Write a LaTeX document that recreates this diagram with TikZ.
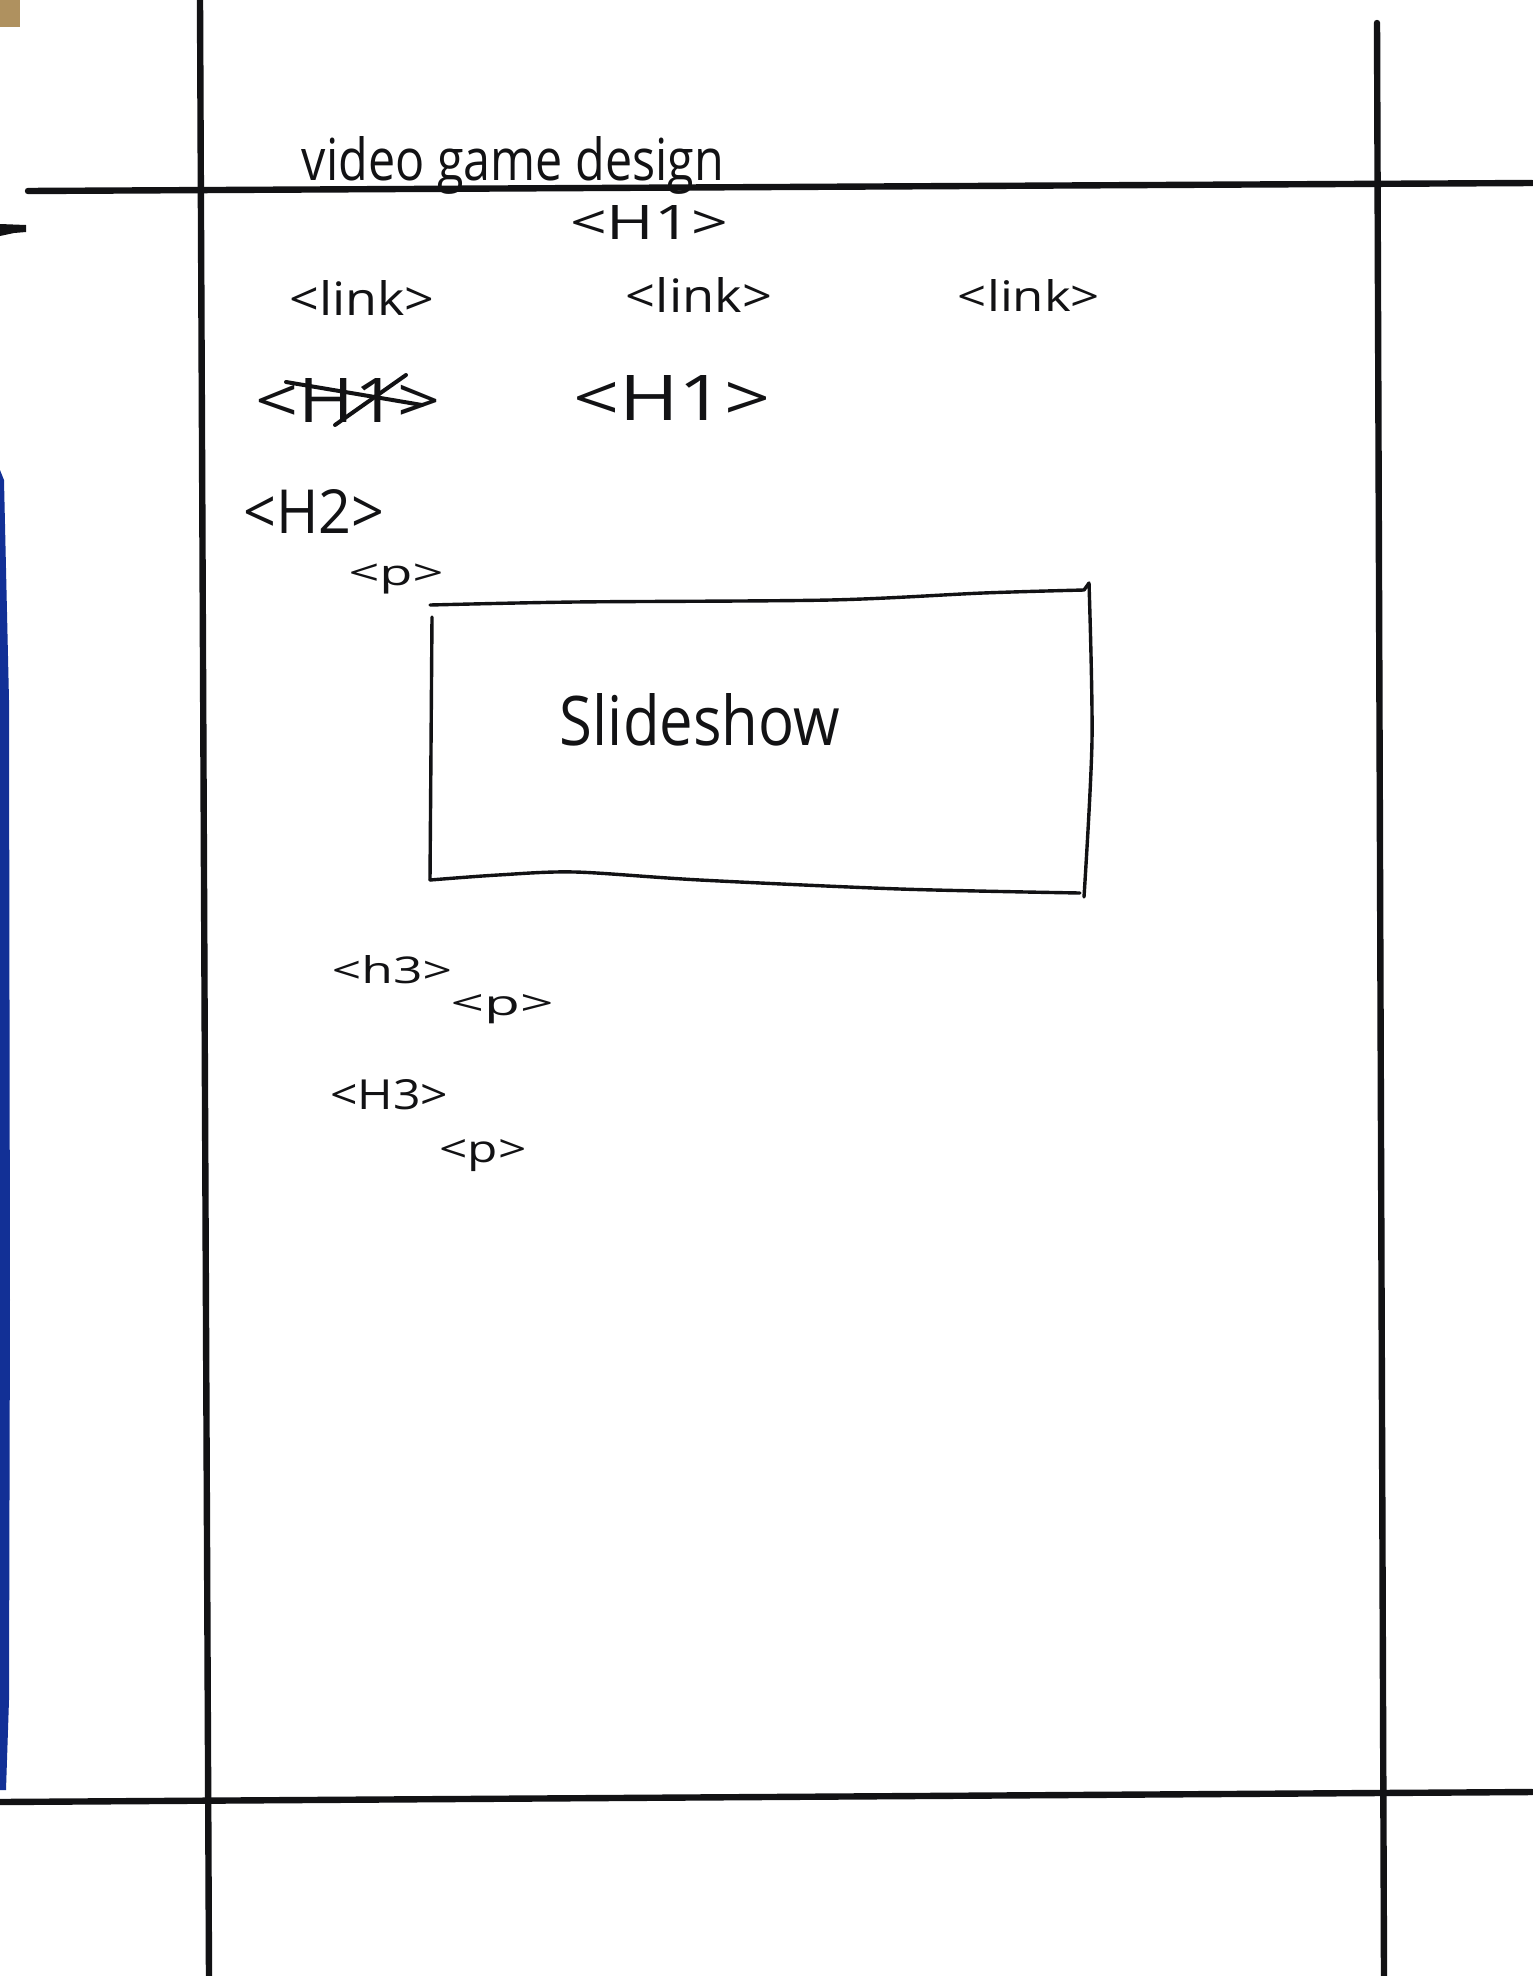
\documentclass[tikz,border=0pt]{standalone}
\usepackage{fontspec}
\setmainfont{Open Sans}
\usepackage{graphicx}
\definecolor{ink}{RGB}{18,18,20}
\definecolor{bluestrip}{RGB}{18,48,150}
\definecolor{tape}{RGB}{175,145,95}
\begin{document}
\begin{tikzpicture}[x=0.5pt,y=-0.5pt,
  frame/.style={draw=ink,line width=3.2pt,line cap=round},
  sketch/.style={draw=ink,line width=1.7pt,line cap=round,line join=round},
  hand/.style={inner sep=0pt,anchor=base,text=ink}]
\fill[white] (0,0) rectangle (1532,1976);
\useasboundingbox (0,0) rectangle (1532,1976);
% paper edge details
\fill[tape] (0,0) rectangle (20,27);
\fill[bluestrip] (0,470) -- (4,480) -- (9,700) -- (10,1300) -- (9,1700) -- (6,1790) -- (0,1790) -- cycle;
\fill[ink] (0,224) -- (26,225) -- (26,232) -- (14,233) -- (0,236) -- cycle;
% grid lines
\coordinate (lt) at (200,0);   \coordinate (lb) at (209,1976);
\coordinate (rt) at (1377,23); \coordinate (rb) at (1384,1976);
\coordinate (tl) at (28,191);  \coordinate (tr) at (1532,183);
\coordinate (bl) at (0,1802);  \coordinate (br) at (1532,1792);
\draw[frame] (lt) -- (lb);
\draw[frame] (rt) -- (rb);
\draw[frame] (tl) -- (tr);
\draw[frame] (bl) -- (br);
% texts
\node[hand] (title) at (513,180) {\resizebox{211pt}{22pt}{video game design}};
\node[hand] (h1top) at (649,239) {\resizebox{79pt}{17pt}{<H1>}};
\node[hand] (link1) at (362,315) {\resizebox{72.5pt}{17.5pt}{<link>}};
\node[hand] (link2) at (699,312) {\resizebox{73pt}{17.5pt}{<link>}};
\node[hand] (link3) at (1029,311) {\resizebox{71pt}{16pt}{<link>}};
\node[hand] (h1x) at (348,422) {\resizebox{92.5pt}{22pt}{<H1>}};
\node[hand] (h1b) at (672,420) {\resizebox{99pt}{22.5pt}{<H1>}};
\node[hand] (h2) at (314,533) {\resizebox{70.5pt}{22pt}{<H2>}};
\node[hand] (p1) at (396,585) {\resizebox{47.5pt}{10.8pt}{<p>}};
\node[hand] (slides) at (700,745) {\resizebox{140pt}{26pt}{Slideshow}};
\node[hand] (h3a) at (392,983) {\resizebox{60pt}{14pt}{<h3>}};
\node[hand] (p2) at (502,1015) {\resizebox{51.5pt}{10.5pt}{<p>}};
\node[hand] (h3b) at (389,1109) {\resizebox{59pt}{15pt}{<H3>}};
\node[hand] (p3) at (483,1162) {\resizebox{43.5pt}{11.5pt}{<p>}};
% strike-through of the first H1
\draw[sketch,line width=2pt] (286,382) -- (422,405);
\draw[sketch,line width=2pt] (335,425) -- (406,375);
% slideshow box
\draw[sketch] plot[smooth,tension=0.5] coordinates {(430,605) (575,602) (830,600) (983,593) (1084,590)} -- (1089,583);
\draw[sketch] plot[smooth,tension=0.5] coordinates {(1089,583) (1092,740) (1084,897)};
\draw[sketch] plot[smooth,tension=0.5] coordinates {(1080,893) (900,889) (700,880) (575,872) (498,875) (430,880)};
\draw[sketch] (432,617) -- (430,880);
\end{tikzpicture}
\end{document}
